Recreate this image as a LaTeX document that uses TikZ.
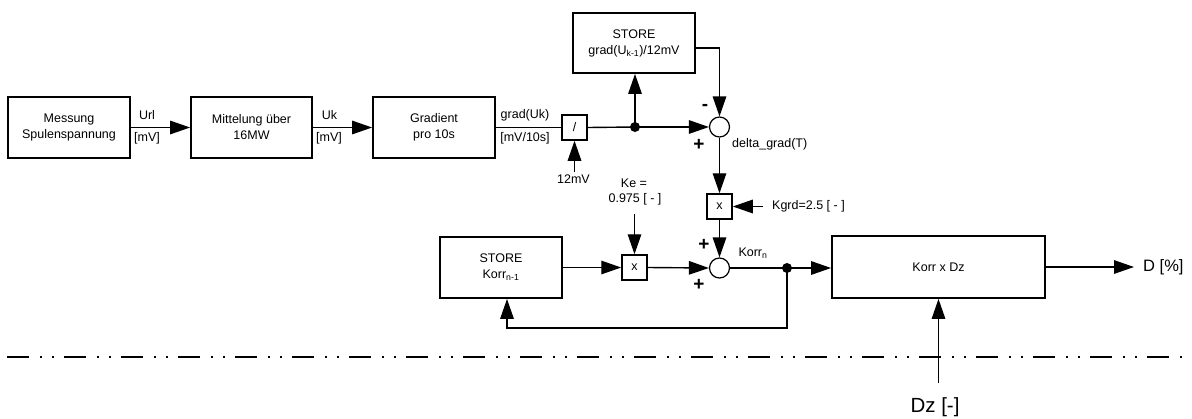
\documentclass[tikz,border=0pt]{standalone}
\usepackage{fontspec}
\setmainfont{Liberation Sans}
\usetikzlibrary{arrows.meta}
\begin{document}
\begin{tikzpicture}[x=1pt,y=-1pt,
  every node/.style={font=\fontsize{12.5}{16}\selectfont},
  blk/.style={draw,line width=1.8pt,align=center,inner sep=0pt},
  sbox/.style={draw,line width=1.5pt,minimum size=25pt,inner sep=0pt},
  sumc/.style={draw,circle,line width=1.2pt,minimum size=20pt,inner sep=0pt},
  dotn/.style={circle,fill,minimum size=10pt,inner sep=0pt},
  lbl/.style={inner sep=0pt},
  sign/.style={inner sep=0pt,font=\fontsize{19}{19}\selectfont\bfseries},
  big/.style={inner sep=0pt,font=\fontsize{16.5}{18}\selectfont},
  bigger/.style={inner sep=0pt,font=\fontsize{20.5}{22}\selectfont},
  conn/.style={line width=1.4pt},
  arr/.style={line width=1.4pt,-{Triangle[length=20pt,width=13.5pt]}},
  dashdd/.style={line width=1.5pt,dash pattern=on 22pt off 11pt on 2pt off 10pt on 2pt off 10pt}
]
\useasboundingbox (0,0) rectangle (1192,418);
% blocks
\node[blk,minimum width=122pt,minimum height=61pt] (mess) at (69,127.5) {Messung\\Spulenspannung};
\node[blk,minimum width=121pt,minimum height=61pt] (mitt) at (251.5,127.5) {Mittelung über\\16MW};
\node[blk,minimum width=122pt,minimum height=61pt] (grad) at (434,127.5) {Gradient\\pro 10s};
\node[sbox] (div) at (574.5,127.5) {/};
\node[blk,minimum width=122pt,minimum height=60pt] (stg) at (634,43) {STORE\\grad(U\textsubscript{k-1})/12mV};
\node[dotn] (d1) at (635,127) {};
\node[sumc] (s1) at (719.5,127) {};
\node[sbox] (m1) at (719.5,206.5) {x};
\node[sumc] (s2) at (719.5,268) {};
\node[blk,minimum width=122pt,minimum height=61pt] (stk) at (501,267.5) {STORE\\Korr\textsubscript{n-1}};
\node[sbox] (m2) at (634.5,267.5) {x};
\node[dotn] (d2) at (787,268) {};
\node[blk,minimum width=213pt,minimum height=62pt] (kdz) at (938.5,267) {Korr x Dz};
% free ends
\coordinate (c12) at (574.5,172);
\coordinate (cs) at (719.5,48);
\coordinate (ckg) at (763,206.5);
\coordinate (cke) at (634.5,214);
\coordinate (cfb1) at (787,328);
\coordinate (cfb2) at (507,328);
\coordinate (cout) at (1134,267);
\coordinate (cdz) at (938.5,383);
% connectors
\draw[arr] (mess.east) -- (mitt.west);
\draw[arr] (mitt.east) -- (grad.west);
\draw[conn] (grad.east) -- (div.west);
\draw[arr] (c12) -- (div.south);
\draw[conn] (div.east) -- (d1.center);
\draw[arr] (d1.center) -- (s1.west);
\draw[arr] (d1.center) -- (d1.center |- stg.south);
\draw[arr] (stg.east |- cs) -- (cs) -- (s1.north);
\draw[arr] (s1.south) -- (m1.north);
\draw[arr] (ckg) -- (m1.east);
\draw[arr] (m1.south) -- (s2.north);
\draw[arr] (stk.east) -- (m2.west);
\draw[arr] (cke) -- (m2.north);
\draw[arr] (m2.east) -- (s2.west);
\draw[conn] (s2.east) -- (d2.center);
\draw[arr] (d2.center) -- (kdz.west |- d2.center);
\draw[arr] (d2.center) -- (cfb1) -- (cfb2) -- (cfb2 |- stk.south);
\draw[arr] (kdz.east) -- (cout);
\draw[dashdd] (7,357) -- (1192,357);
\draw[arr] (cdz) -- (kdz.south);
% labels
\node[lbl] (lurl) at (147,115) {Url};
\node[lbl] (lmv1) at (147,138.5) {[mV]};
\node[lbl] (luk) at (329.5,115) {Uk};
\node[lbl] (lmv2) at (329,138.5) {[mV]};
\node[lbl] (lgu) at (525,115) {grad(Uk)};
\node[lbl] (lmv3) at (525,138.5) {[mV/10s]};
\node[lbl] (l12) at (573.5,179) {12mV};
\node[lbl,anchor=west] (ldg) at (732,144) {delta\_grad(T)};
\node[lbl,anchor=west] (lkg) at (772,206.5) {Kgrd=2.5 [ - ]};
\node[lbl] (lke1) at (634,183) {Ke =};
\node[lbl] (lke2) at (635,199.5) {0.975 [ - ]};
\node[lbl] (lkn) at (753,253) {Korr\textsubscript{n}};
\node[sign] (pm1) at (705,107) {-};
\node[sign] (pp1) at (699,145) {+};
\node[sign] (pp2) at (704,245) {+};
\node[sign] (pp3) at (699,285) {+};
\node[big,anchor=west] (ld) at (1143,267) {D [\%]};
\node[bigger] (ldz) at (935,407) {Dz [-]};
\end{tikzpicture}
\end{document}
